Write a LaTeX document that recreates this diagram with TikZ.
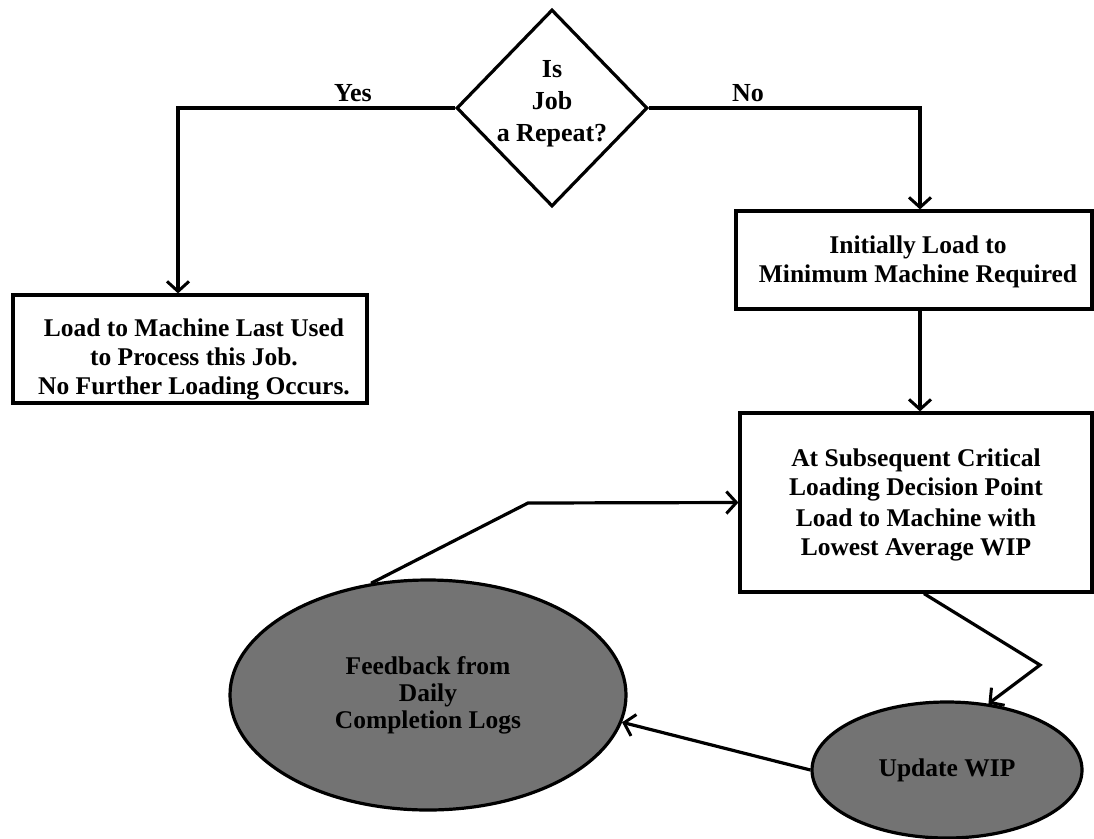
\documentclass[tikz,border=0pt]{standalone}
\usepackage{fontspec}
\setmainfont{Liberation Serif}
\usetikzlibrary{shapes.geometric,arrows.meta,calc}
\tikzset{
  arr/.style={line width=3.2pt,-{Straight Barb[length=10pt,width=22pt,line width=3pt]}},
  box/.style={draw,line width=3.2pt,rectangle,inner sep=0pt},
  dia/.style={draw,line width=3.2pt,diamond,inner sep=0pt,minimum width=191pt,minimum height=197pt},
  txt/.style={align=center,inner sep=0pt,font=\bfseries\fontsize{25.5}{29}\selectfont},
  lab/.style={inner sep=0pt,font=\bfseries\fontsize{26}{28}\selectfont},
  oval/.style={draw,line width=3.2pt,ellipse,fill=black!55,inner sep=0pt,align=center,font=\bfseries\fontsize{25.5}{27}\selectfont}
}
\begin{document}
\begin{tikzpicture}[x=1pt,y=-1pt]
\useasboundingbox (0,0) rectangle (1094,838);
% decision
\node[dia] (q) at (552,108) {};
\node[txt,font=\bfseries\fontsize{26}{32}\selectfont] (qt) at (552,104) {Is\\Job\\a Repeat?};
% boxes
\node[box,minimum width=354pt,minimum height=108pt] (b1) at (190,349) {};
\node[txt] (t1) at (194,359) {Load to Machine Last Used\\to Process this Job.\\No Further Loading Occurs.};
\node[box,minimum width=356pt,minimum height=98pt] (b2) at (914,260) {};
\node[txt] (t2) at (918,262) {Initially Load to\\Minimum Machine Required};
\node[box,minimum width=352pt,minimum height=179pt] (b3) at (916,502.5) {};
\node[txt] (t3a) at (916,475) {At Subsequent Critical\\Loading Decision Point};
\node[txt] (t3b) at (916,535) {Load to Machine with\\Lowest Average WIP};
% ovals
\node[oval,minimum width=270pt,minimum height=136pt] (upd) at (947,770) {Update WIP};
\node[oval,minimum width=396pt,minimum height=230pt] (fb) at (428,695) {Feedback from\\Daily\\Completion Logs};
% labels
\node[lab] (yes) at (353,93) {Yes};
\node[lab] (no) at (748,93) {No};
% connectors
\draw[arr] (q.west) -| ([xshift=-12pt]b1.north);
\draw[arr] (q.east) -| ([xshift=6pt]b2.north);
\draw[arr] ([xshift=6pt]b2.south) -- ([xshift=4pt]b3.north);
\coordinate (k1) at (1040,665);
\draw[arr] ([xshift=8pt]b3.south) -- (k1) -- (upd.58);
\draw[arr] (upd.180) -- (fb.-8);
\coordinate (k2) at (528,503);
\draw[arr] (fb.117) -- (k2) -- (b3.west);
\end{tikzpicture}
\end{document}
